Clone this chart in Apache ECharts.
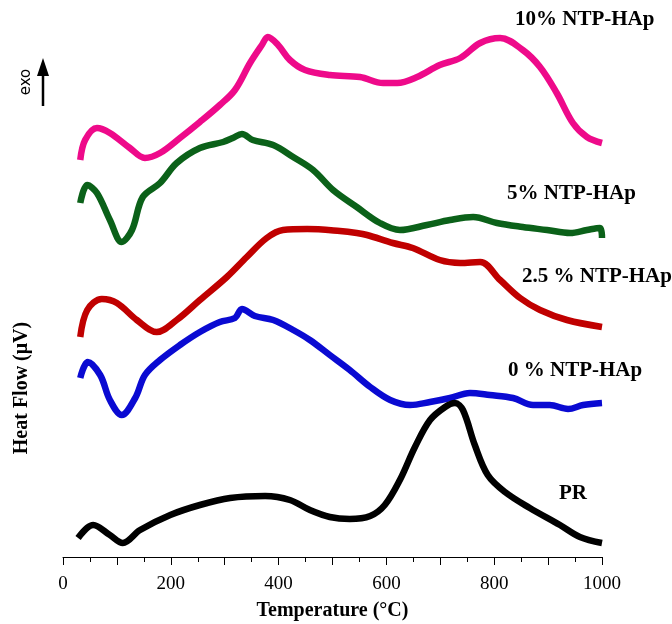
<!DOCTYPE html>
<html>
<head>
<meta charset="utf-8">
<script src="https://cdn.jsdelivr.net/npm/echarts@6/dist/echarts.min.js"></script>
<style>
  html, body { margin: 0; padding: 0; background: #fff; }
  #dscChart { width: 672px; height: 624px; }
</style>
</head>
<body>
<div id="dscChart"></div>
<script>
// temperature (°C) / offset heat flow (arbitrary, stacked)
const tenPct = [[32,397],[41,417],[63,429],[87,424],[124,409],[152,399],[180,404],[217,419],[254,435],[291,452],[319,467],[347,494],[369,512],[380,520],[399,512],[421,497],[449,487],[495,482],[551,480],[594,474],[620,474],[657,480],[699,492],[737,499],[774,514],[811,519],[853,507],[885,490],[916,464],[946,434],[972,420],[1000,414]];
const fivePct = [[32,354],[45,372],[63,364],[87,337],[109,315],[128,327],[148,360],[180,374],[211,394],[254,409],[297,415],[315,419],[332,423],[352,417],[390,412],[427,400],[464,387],[501,367],[545,350],[588,334],[625,327],[675,332],[718,337],[761,340],[805,334],[853,330],[898,327],[941,324],[972,327],[996,329],[1000,319]];
const twoHalfPct = [[32,220],[45,247],[72,258],[100,254],[137,237],[174,225],[211,237],[254,257],[304,280],[341,300],[378,319],[408,327],[453,328],[514,326],[545,324],[564,322],[612,314],[649,309],[699,297],[737,294],[774,295],[811,277],[848,259],[885,247],[935,237],[1000,230]];
const zeroPct = [[32,179],[46,195],[69,182],[87,157],[109,142],[134,159],[152,182],[180,197],[217,212],[254,225],[291,235],[319,239],[332,248],[356,241],[390,237],[427,227],[458,217],[495,202],[532,187],[570,170],[607,157],[644,152],[681,155],[718,159],[755,164],[792,162],[835,159],[872,152],[903,152],[937,148],[965,152],[1000,154]];
const prData = [[28,19],[56,32],[87,22],[111,14],[143,27],[199,42],[254,52],[310,59],[375,61],[421,57],[458,47],[495,40],[532,38],[570,41],[597,52],[625,77],[653,110],[681,137],[709,150],[727,154],[742,147],[764,112],[788,82],[820,65],[866,49],[922,32],[959,20],[1000,14]];

const seriesNames = ['10% NTP-HAp', '5% NTP-HAp', '2.5 % NTP-HAp', '0 % NTP-HAp', 'PR'];
const seriesColors = ['#ee0a8a', '#0b6119', '#c00000', '#0a0ad2', '#000000'];
const allData = [tenPct, fivePct, twoHalfPct, zeroPct, prData];
const xTickLabels = [0, 200, 400, 600, 800, 1000];

const chart = echarts.init(document.getElementById('dscChart'));
const serif = 'Liberation Serif, Times New Roman, serif';
const labelFont = 'bold 21px ' + serif;

const option = {
  animation: false,
  grid: { left: 63, right: 70, top: 10, bottom: 67, outerBoundsMode: 'none' },
  xAxis: {
    type: 'value',
    min: 0,
    max: 1000,
    interval: 100,
    name: 'Temperature (°C)',
    nameLocation: 'middle',
    nameGap: 44,
    nameTextStyle: { fontFamily: serif, fontWeight: 'bold', fontSize: 20, color: '#000' },
    axisLine: { lineStyle: { color: '#000', width: 1 } },
    axisTick: { length: 8, lineStyle: { color: '#000' } },
    minorTick: { show: true, splitNumber: 2, length: 5, lineStyle: { color: '#000' } },
    splitLine: { show: false },
    axisLabel: {
      fontFamily: serif,
      fontSize: 19,
      color: '#000',
      margin: 18,
      formatter: v => (xTickLabels.indexOf(v) >= 0 ? String(v) : '')
    }
  },
  yAxis: { type: 'value', min: 0, max: 547, show: false },
  series: allData.map((d, i) => ({
    name: seriesNames[i],
    type: 'line',
    data: d,
    smooth: 0.35,
    showSymbol: false,
    lineStyle: { color: seriesColors[i], width: 6.5 }
  })),
  graphic: [
    { type: 'text', left: 515, top: 9, style: { text: seriesNames[0], font: labelFont, fill: '#000' } },
    { type: 'text', left: 507, top: 183, style: { text: seriesNames[1], font: labelFont, fill: '#000' } },
    { type: 'text', left: 522, top: 266, style: { text: seriesNames[2], font: labelFont, fill: '#000' } },
    { type: 'text', left: 508, top: 360, style: { text: seriesNames[3], font: labelFont, fill: '#000' } },
    { type: 'text', left: 559, top: 483, style: { text: seriesNames[4], font: labelFont, fill: '#000' } },
    { type: 'text', x: 26, y: 82, rotation: Math.PI / 2,
      style: { text: 'exo', font: '15px DejaVu Sans, sans-serif', fill: '#000', align: 'center', verticalAlign: 'middle' } },
    { type: 'line', shape: { x1: 43, y1: 106, x2: 43, y2: 72 }, style: { stroke: '#000', lineWidth: 2.5 } },
    { type: 'polygon', shape: { points: [[43, 58], [37, 76], [49, 76]] }, style: { fill: '#000' } },
    { type: 'text', x: 22, y: 388, rotation: Math.PI / 2,
      style: { text: 'Heat Flow (μV)', font: 'bold 20px ' + serif, fill: '#000', align: 'center', verticalAlign: 'middle' } }
  ]
};

chart.setOption(option);
window.addEventListener('resize', () => chart.resize());
</script>
</body>
</html>
